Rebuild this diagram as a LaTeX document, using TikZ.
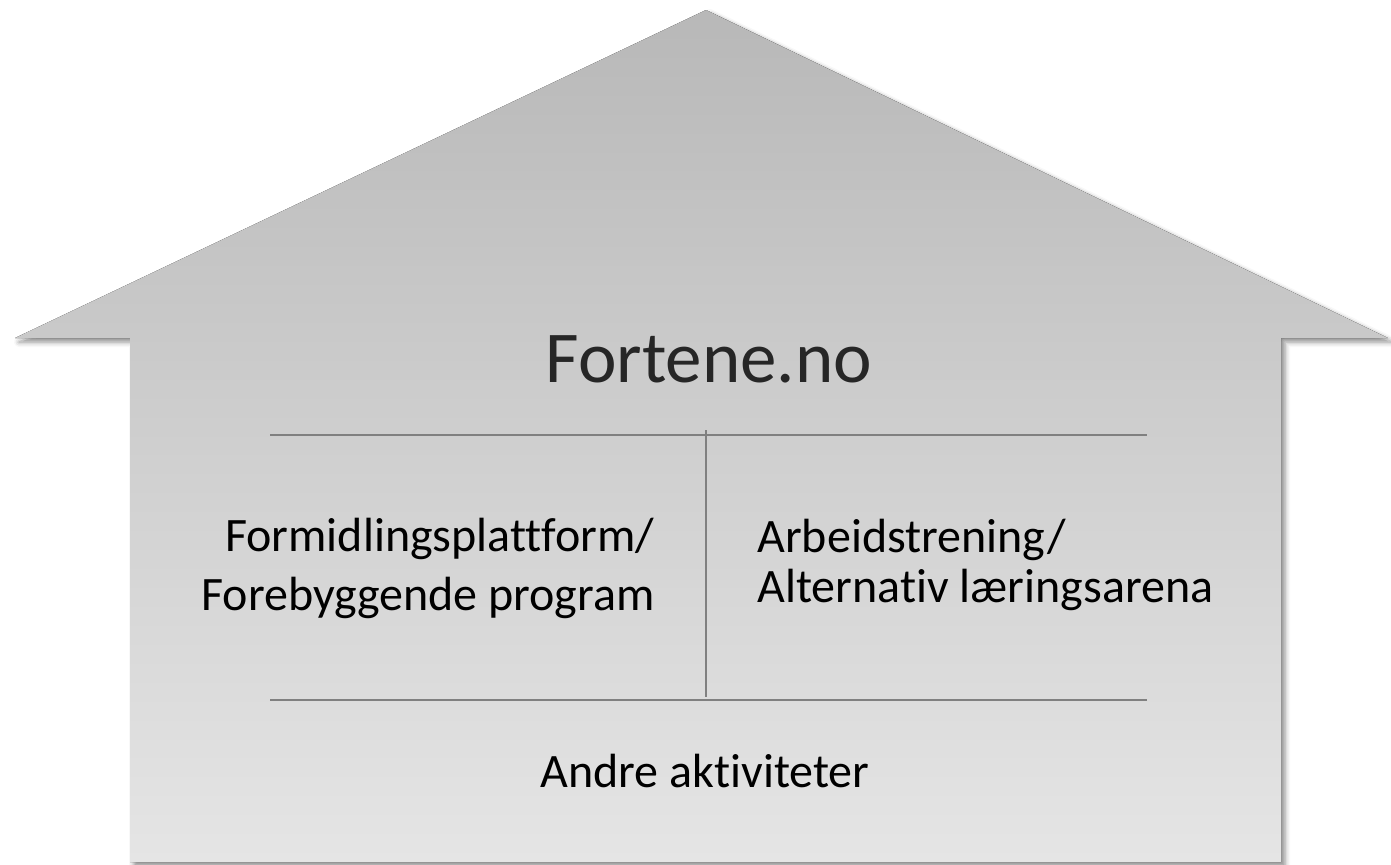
\documentclass[tikz,border=0pt]{standalone}
\usepackage{fontspec}
\setmainfont{Carlito}[Ligatures=NoCommon]
\usetikzlibrary{shadows.blur}

\definecolor{roofgray}{HTML}{B8B8B8}
\definecolor{floorgray}{HTML}{E5E5E5}
\definecolor{linegray}{HTML}{808080}

\begin{document}
\begin{tikzpicture}[x=0.5pt,y=-0.5pt]
      \tikzstyle{every node}+=[inner sep=0pt]
      \tikzstyle{divider}=[draw=linegray, line width=1pt]
      \tikzstyle{pillar}=[font=\fontsize{24}{29}\selectfont]
      \useasboundingbox (0,0) rectangle (1391,864);
      % house
      \fill [top color=roofgray, bottom color=floorgray,
             blur shadow={shadow xshift=2pt, shadow yshift=-2pt, shadow blur radius=2.5pt, shadow opacity=45}]
            (15,338) -- (706,10) -- (1388,338) -- (1281,338) -- (1281,862)
            -- (130,862) -- (130,338) -- cycle;
      % dividers
      \coordinate (topL) at (270,435);
      \coordinate (topR) at (1147,435);
      \coordinate (botL) at (270,700);
      \coordinate (botR) at (1147,700);
      \coordinate (midT) at (706,430);
      \coordinate (midB) at (706,697);
      \draw [divider] (topL) -- (topR);
      \draw [divider] (botL) -- (botR);
      \draw [divider] (midT) -- (midB);
      % texts
      \node [anchor=base, text=black!85, font=\fontsize{36.5}{44}\selectfont] (title) at (709,382) {Fortene.no};
      \node [pillar, anchor=base east] (formid) at (655,551) {Formidlingsplattform/};
      \node [pillar, anchor=base east] (forebygg) at (655,610) {Forebyggende program};
      \node [pillar, anchor=base west] (arbeid) at (757,552) {Arbeidstrening/};
      \node [pillar, anchor=base west] (alternativ) at (757,602) {Alternativ læringsarena};
      \node [pillar, anchor=base] (andre) at (705,787) {Andre aktiviteter};
\end{tikzpicture}
\end{document}
